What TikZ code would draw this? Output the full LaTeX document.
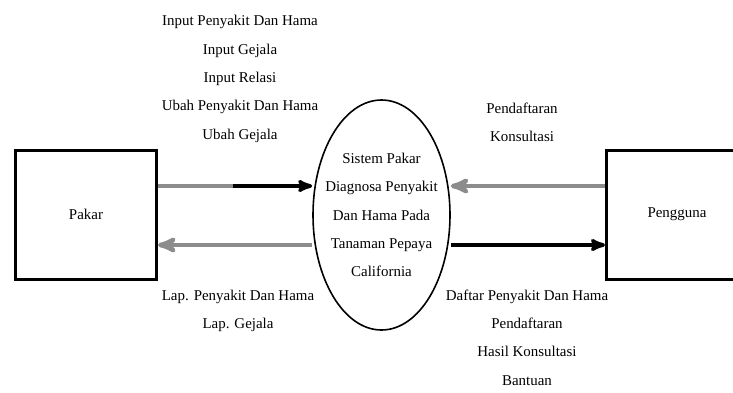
\documentclass[tikz,border=0pt]{standalone}
\usepackage{fontspec}
\setmainfont{Liberation Serif}
\usetikzlibrary{arrows,positioning,shapes.geometric}

\begin{document}
\begin{tikzpicture}[x=1bp,y=-1bp,>=stealth',
	every node/.style={font=\fontsize{15}{28.5}\selectfont},
	entitas/.style={draw,line width=3bp,minimum width=141bp,minimum height=129bp},
	proses/.style={ellipse,draw,line width=1.6bp,minimum width=137bp,minimum height=230bp,inner sep=0pt},
	keterangan/.style={align=center},
	alirgray/.style={draw=black!45,line width=4.5bp},
	alirhitam/.style={draw=black,line width=3.5bp}]
	\useasboundingbox (0,0) rectangle (733,392);

	\node[entitas] (pakar) at (86,214.5) {Pakar};
	\node[entitas] (pengguna) at (677,214.5) {Pengguna};
	\node[proses] (sistem) at (381.5,215) {};
	\node[keterangan] (tSistem) at (sistem.center) {Sistem Pakar\\Diagnosa Penyakit\\Dan Hama Pada\\Tanaman Pepaya\\California};

	\coordinate (atas) at (0,186);
	\coordinate (bawah) at (0,245);
	\coordinate (belok) at (233,186);

	% arus data
	\draw[alirgray] (pakar.east |- atas) -- (belok);
	\draw[alirhitam,->] (belok) -- (sistem.west |- atas);
	\draw[alirgray,->] (sistem.west |- bawah) -- (pakar.east |- bawah);
	\draw[alirgray,->] (pengguna.west |- atas) -- (sistem.east |- atas);
	\draw[alirhitam,->] (sistem.east |- bawah) -- (pengguna.west |- bawah);

	% keterangan
	\node[keterangan] (tInput) at (240,79) {Input Penyakit Dan Hama\\Input Gejala\\Input Relasi\\Ubah Penyakit Dan Hama\\Ubah Gejala};
	\node[keterangan] (tLap) at (238,311) {Lap. Penyakit Dan Hama\\Lap. Gejala};
	\node[keterangan] (tDaftar) at (522,122.5) {Pendaftaran\\Konsultasi};
	\node[keterangan] (tHasil) at (527,337.5) {Daftar Penyakit Dan Hama\\Pendaftaran\\Hasil Konsultasi\\Bantuan};
\end{tikzpicture}
\end{document}
